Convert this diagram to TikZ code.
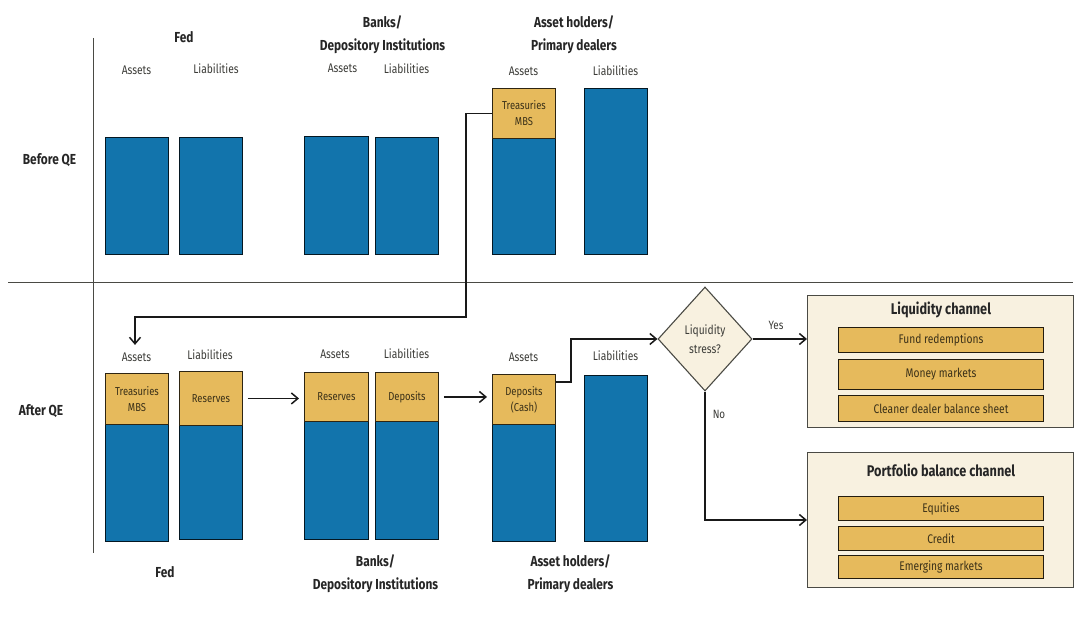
\documentclass[tikz,border=0pt]{standalone}
\usepackage{fontspec}
\setmainfont{Fira Sans}[FakeStretch=0.82]
\usetikzlibrary{shapes.geometric,arrows.meta,calc}
\definecolor{barblue}{HTML}{1274AC}
\definecolor{gold}{HTML}{E6BA5C}
\definecolor{cream}{HTML}{F8F1E0}
\definecolor{linegrey}{HTML}{4A4A44}
\definecolor{txt}{HTML}{3C3C38}
\definecolor{goldtxt}{HTML}{3A3018}
\tikzset{
 x=1pt,y=-1pt,
 barbox/.style n args={2}{draw=black!80!barblue,line width=.9pt,fill=barblue,anchor=north west,inner sep=0,minimum width=#1,minimum height=#2},
 goldbox/.style n args={2}{draw=black!80!gold,line width=.9pt,fill=gold,anchor=north west,inner sep=0,minimum width=#1,minimum height=#2,align=center,font=\fontsize{11.5}{16}\selectfont,text=goldtxt},
 itembox/.style n args={2}{draw=black!85!gold,line width=1.1pt,fill=gold,anchor=north west,inner sep=0,minimum width=#1,minimum height=#2,font=\fontsize{12.5}{15}\selectfont,text=goldtxt},
 panelbox/.style n args={2}{draw=linegrey,line width=1pt,fill=cream,anchor=north west,inner sep=0,minimum width=#1,minimum height=#2},
 sublabel/.style={font=\fontsize{12.5}{15}\selectfont,text=txt,inner sep=0},
 headlabel/.style={font=\fontsize{14.5}{23}\selectfont\bfseries,text=black!85,align=center,inner sep=0},
 rowlabel/.style={font=\fontsize{14.5}{18}\selectfont\bfseries,text=black!85,inner sep=0},
 paneltitle/.style={font=\fontsize{15.5}{18}\selectfont\bfseries,text=black!85,inner sep=0},
 flow/.style={line width=1.5pt,draw=black!90,line join=miter,-{Straight Barb[length=6.5pt,width=11pt,line width=1.5pt]}},
 rule/.style={line width=.9pt,draw=linegrey},
 decisionbox/.style={diamond,draw=linegrey,line width=1.1pt,fill=cream,aspect=0.9,inner sep=0,minimum width=94pt,minimum height=104pt,align=center,font=\fontsize{12.5}{19}\selectfont,text=txt},
}
\begin{document}
\begin{tikzpicture}
\useasboundingbox (0,0) rectangle (1080,617);
\fill[white] (0,0) rectangle (1080,617);
% rules
\coordinate (hl) at (8,282); \coordinate (hr) at (1073,282);
\coordinate (vt) at (93,38); \coordinate (vb) at (93,553);
\draw[rule] (hl) -- (hr);
\draw[rule] (vt) -- (vb);
% row labels
\node[rowlabel] (before) at (49.5,160) {Before QE};
\node[rowlabel] (after) at (41,411) {After QE};
% top headers
\node[headlabel] (h1) at (184,37) {Fed};
\node[headlabel] (h2) at (382.5,35) {Banks/\\Depository Institutions};
\node[headlabel] (h3) at (574,35) {Asset holders/\\Primary dealers};
\node[sublabel] (a1) at (136.5,70) {Assets};
\node[sublabel] (l1) at (216,69) {Liabilities};
\node[sublabel] (a2) at (342.5,68) {Assets};
\node[sublabel] (l2) at (406.5,69) {Liabilities};
\node[sublabel] (a3) at (523.5,71) {Assets};
\node[sublabel] (l3) at (615.5,71) {Liabilities};
% before bars
\node[barbox={63pt}{117pt}] (b1) at (105,137) {};
\node[barbox={63pt}{117pt}] (b2) at (179,137) {};
\node[barbox={64pt}{118pt}] (b3) at (304,136) {};
\node[barbox={63pt}{117pt}] (b4) at (375,137) {};
\node[barbox={63pt}{116pt}] (b5) at (492,138) {};
\node[goldbox={63pt}{50pt}] (treasB) at (492,88) {Treasuries\\MBS};
\node[barbox={63pt}{166pt}] (b6) at (584,88) {};
% after sublabels
\node[sublabel] (a4) at (136.5,357) {Assets};
\node[sublabel] (l4) at (210,355) {Liabilities};
\node[sublabel] (a5) at (335,354) {Assets};
\node[sublabel] (l5) at (406.5,354) {Liabilities};
\node[sublabel] (a6) at (523.5,357) {Assets};
\node[sublabel] (l6) at (615.5,356) {Liabilities};
% after bars
\node[barbox={63pt}{117pt}] (c1) at (105,424) {};
\node[goldbox={63pt}{51pt}] (treasA) at (105,373) {Treasuries\\MBS};
\node[barbox={63pt}{114pt}] (c2) at (179,425) {};
\node[goldbox={63pt}{54pt}] (resA) at (179,371) {Reserves};
\node[barbox={64pt}{118pt}] (c3) at (304,421) {};
\node[goldbox={64pt}{49pt}] (resB) at (304,372) {Reserves};
\node[barbox={63pt}{118pt}] (c4) at (375,421) {};
\node[goldbox={63pt}{49pt}] (depB) at (375,372) {Deposits};
\node[barbox={63pt}{117pt}] (c5) at (492,424) {};
\node[goldbox={63pt}{50pt}] (depC) at (492,374) {Deposits\\(Cash)};
\node[barbox={63pt}{166pt}] (c6) at (584,375) {};
% bottom headers
\node[headlabel] (h4) at (165,572) {Fed};
\node[headlabel] (h5) at (375.5,574) {Banks/\\Depository Institutions};
\node[headlabel] (h6) at (570.5,574) {Asset holders/\\Primary dealers};
% decision
\node[decisionbox] (dec) at (705,339) {Liquidity\\stress?};
% panels
\node[panelbox={266pt}{132pt}] (p1) at (807,295) {};
\node[paneltitle] (p1t) at (941,310) {Liquidity channel};
\node[itembox={205pt}{25pt}] (i1) at (838,327) {Fund redemptions};
\node[itembox={205pt}{30pt}] (i2) at (838,359) {Money markets};
\node[itembox={205pt}{26pt}] (i3) at (838,395) {Cleaner dealer balance sheet};
\node[panelbox={266pt}{135pt}] (p2) at (807,452) {};
\node[paneltitle] (p2t) at (941,470) {Portfolio balance channel};
\node[itembox={205pt}{24pt}] (i4) at (838,496) {Equities};
\node[itembox={205pt}{24pt}] (i5) at (838,526) {Credit};
\node[itembox={205pt}{23pt}] (i6) at (838,555) {Emerging markets};
% connector labels
\node[sublabel,font=\fontsize{12}{14}\selectfont] (yes) at (776,325) {Yes};
\node[sublabel,font=\fontsize{12}{14}\selectfont] (no) at (719,414) {No};
% connectors
\coordinate (trEnd) at ($(a4.north)+(-1.5,-7.5)$);
\draw[flow] (treasB.west) -- ++(-26,0) |- (135,317) -- (trEnd);
\draw[flow,shorten <=5pt,shorten >=5pt] (resA.east) -- (resB.west |- resA.east);
\draw[flow,shorten <=5pt,shorten >=5pt] (depB.east) -- (depC.west |- depB.east);
\draw[flow] (depC.east |- 0,382) -- (571,382) |- (dec.west);
\draw[flow] (dec.east) -- (p1.west |- dec.east);
\draw[flow] (dec.south) |- (p2.west |- 0,520);
\end{tikzpicture}
\end{document}
